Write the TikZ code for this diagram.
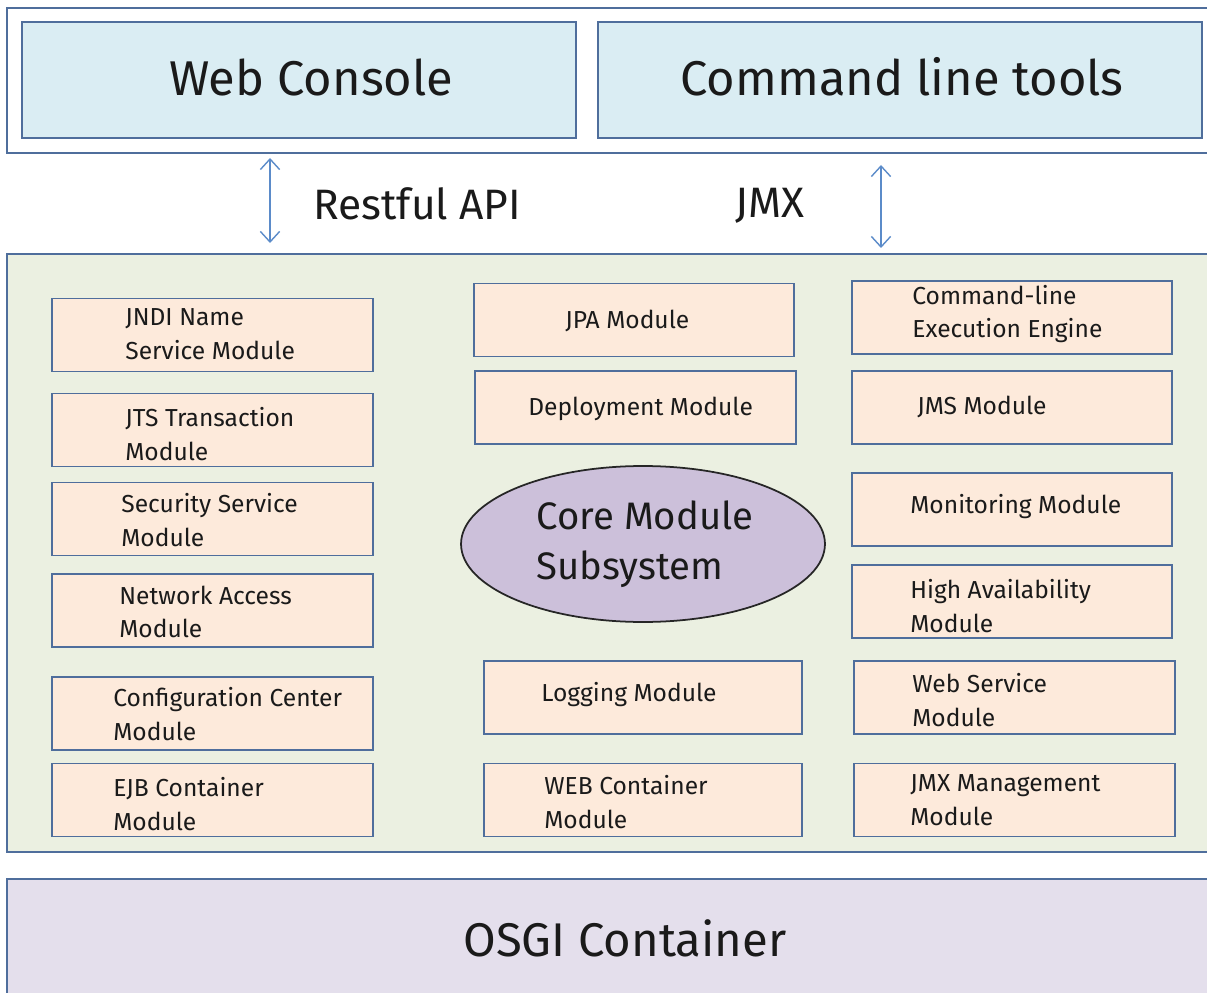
\documentclass[tikz,border=0pt]{standalone}
\usepackage{fontspec}
\setmainfont{Fira Sans}
\usetikzlibrary{arrows.meta,shapes.geometric,calc}

\definecolor{framec}{HTML}{4F6E9C}
\definecolor{consolec}{HTML}{DAEDF3}
\definecolor{midc}{HTML}{EBF0E1}
\definecolor{modc}{HTML}{FDEADB}
\definecolor{corec}{HTML}{CCC0DA}
\definecolor{osgic}{HTML}{E4DFEC}
\definecolor{arrowc}{HTML}{5B8BC9}
\definecolor{txtc}{HTML}{1A1A1A}

\tikzset{
  bar/.style={draw=framec, line width=1.1pt},
  toolbox/.style={draw=framec, fill=consolec, line width=1.1pt, minimum width={#1*0.02cm}, minimum height=2.32cm},
  modbox/.style={draw=framec, fill=modc, line width=1.1pt, minimum width={#1*0.02cm}, minimum height=1.46cm},
  modtxt/.style={anchor=west, align=left, text=txtc, inner sep=0pt,
    font=\fontsize{14}{19}\selectfont},
  bigtxt/.style={text=txtc, inner sep=0pt, font=\fontsize{#1}{28.3}\selectfont},
  biarrow/.style={{Straight Barb[length=6pt,width=11pt]}-{Straight Barb[length=6pt,width=11pt]}, draw=arrowc, line width=0.8pt},
}

\begin{document}
\begin{tikzpicture}[x=0.02cm, y=-0.02cm]
\useasboundingbox (0,0) rectangle (1207,993);
\clip (0,0) rectangle (1207,993);

% top: user tools
\draw[bar, fill=white] (7,8) rectangle (1215,153);
\node[toolbox=554] (console) at (299,80) {};
\node[bigtxt=27.8] (console-t) at (311,77) {Web Console};
\node[toolbox=604] (cmdtools) at (900,80) {};
\node[bigtxt=27.8] (cmdtools-t) at (902,77) {Command line tools};

% interfaces
\coordinate (rest-top) at (270,158);
\coordinate (rest-bot) at (270,243);
\coordinate (jmx-top) at (881,165);
\coordinate (jmx-bot) at (881,248);
\draw[biarrow] (rest-top) -- (rest-bot);
\draw[biarrow] (jmx-top) -- (jmx-bot);
\node[bigtxt=24.2, anchor=west] (rest-t) at (313,204) {Restful API};
\node[bigtxt=24.2, anchor=west] (jmx-t) at (735,206) {JMX};

% modules
\draw[bar, fill=midc] (7,254) rectangle (1215,852);

\node[modbox=321] (jndi) at (212.5,335) {};
\node[modtxt] (jndi-t) at (125,334) {JNDI Name\\Service Module};
\node[modbox=321] (jts) at (212.5,430) {};
\node[modtxt] (jts-t) at (125,434) {JTS Transaction\\Module};
\node[modbox=321] (sec) at (212.5,519) {};
\node[modtxt] (sec-t) at (121,520) {Security Service\\Module};
\node[modbox=321] (net) at (212.5,610.5) {};
\node[modtxt] (net-t) at (119,612) {Network Access\\Module};
\node[modbox=321] (conf) at (212.5,713.5) {};
\node[modtxt] (conf-t) at (113,714) {Configuration Center\\Module};
\node[modbox=321] (ejb) at (212.5,800) {};
\node[modtxt] (ejb-t) at (113,804) {EJB Container\\Module};

\node[modbox=320] (jpa) at (634,320) {};
\node[modtxt] (jpa-t) at (565,321) {JPA Module};
\node[modbox=321] (deploy) at (635.5,407.5) {};
\node[modtxt] (deploy-t) at (528,409) {Deployment Module};
\node[ellipse, draw=black!85, fill=corec, line width=1pt, inner sep=0pt,
  minimum width=7.28cm, minimum height=3.12cm] (core) at (643,544) {};
\node[bigtxt=21.8, anchor=west, align=left] (core-t) at (536,544) {Core Module\\Subsystem};
\node[modbox=318] (log) at (643,697.5) {};
\node[modtxt] (log-t) at (541,695) {Logging Module};
\node[modbox=318] (webc) at (643,800) {};
\node[modtxt] (webc-t) at (544,802) {WEB Container\\Module};

\node[modbox=320] (cle) at (1012,317.5) {};
\node[modtxt] (cle-t) at (912,314) {Command-line\\Execution Engine};
\node[modbox=320] (jms) at (1012,407.5) {};
\node[modtxt] (jms-t) at (917,407) {JMS Module};
\node[modbox=320] (mon) at (1012,509.5) {};
\node[modtxt] (mon-t) at (910,507) {Monitoring Module};
\node[modbox=320] (ha) at (1012,601.5) {};
\node[modtxt] (ha-t) at (910,606) {High Availability\\Module};
\node[modbox=321] (ws) at (1014.5,697.5) {};
\node[modtxt] (ws-t) at (912,700) {Web Service\\Module};
\node[modbox=321] (jmxm) at (1014.5,800) {};
\node[modtxt] (jmxm-t) at (910,800) {JMX Management\\Module};

% base
\draw[bar, fill=osgic] (7,879) rectangle (1215,1010);
\node[bigtxt=26.9] (osgi-t) at (625,938) {OSGI Container};
\end{tikzpicture}
\end{document}
